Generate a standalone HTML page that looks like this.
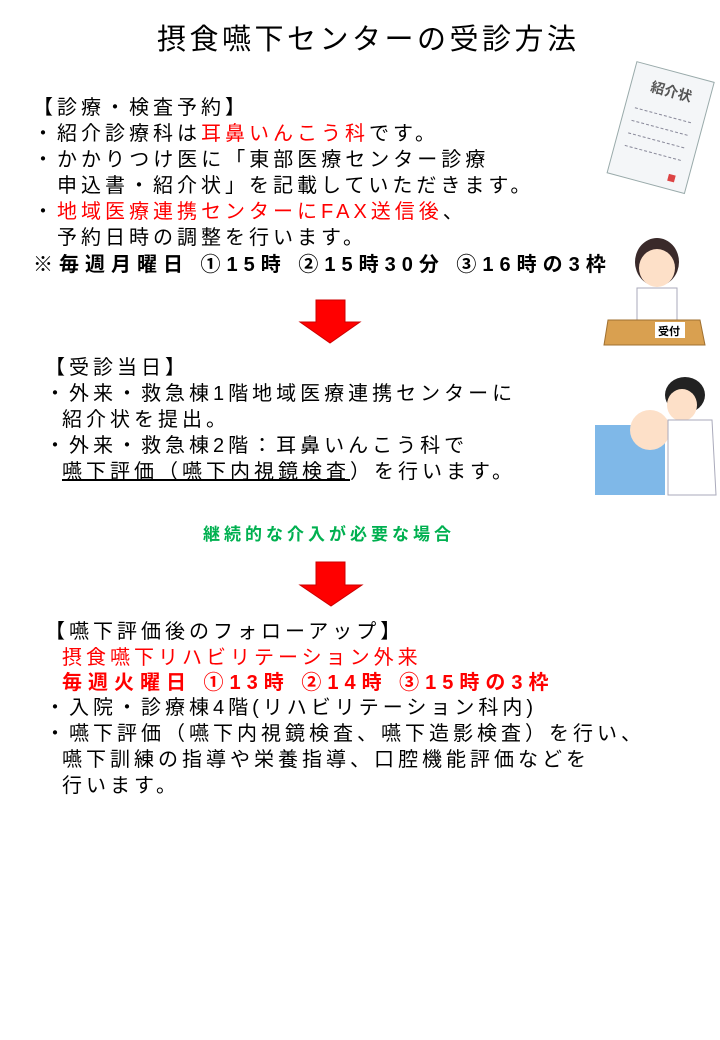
<!DOCTYPE html>
<html><head><meta charset="utf-8"><style>
body{margin:0;width:720px;height:1040px;background:#fff;position:relative;overflow:hidden;font-family:"Liberation Sans","Noto Sans CJK JP",sans-serif;color:#000}
.t{position:absolute;white-space:nowrap;font-size:20px;line-height:26px;letter-spacing:4px}
.r{color:#f00}.b{font-weight:bold}
</style></head><body>
<div class="t" style="left:157px;top:20px;font-size:29px;line-height:40px;letter-spacing:3.5px">摂食嚥下センターの受診方法</div>

<div class="t" style="left:33px;top:95px">【診療・検査予約】</div>
<div class="t" style="left:33px;top:121px">・紹介診療科は<span class="r">耳鼻いんこう科</span>です。</div>
<div class="t" style="left:33px;top:147px">・かかりつけ医に「東部医療センター診療</div>
<div class="t" style="left:57px;top:173px">申込書・紹介状」を記載していただきます。</div>
<div class="t" style="left:33px;top:199px">・<span class="r">地域医療連携センターにFAX送信後</span>、</div>
<div class="t" style="left:57px;top:225px">予約日時の調整を行います。</div>
<div class="t b" style="left:33px;top:252px;letter-spacing:6px">※毎週月曜日 ①15時 ②15時30分 ③16時の3枠</div>

<svg style="position:absolute;left:0;top:0" width="720" height="1040">
<polygon points="316,300 345,300 345,322 360,322 330,343 300,322 316,322" fill="#f00" stroke="#c00"/>
<polygon points="316,562 345,562 345,585 362,585 331,606 300,585 316,585" fill="#f00" stroke="#c00"/>
<g transform="rotate(15 660 130)">
<rect x="620" y="70" width="80" height="115" fill="#f4f6f8" stroke="#9aa" />
<text x="640" y="95" font-size="14" font-weight="bold" fill="#555" font-family="Noto Sans CJK JP">紹介状</text>
<line x1="630" y1="115" x2="690" y2="115" stroke="#889" stroke-dasharray="3 2"/>
<line x1="630" y1="128" x2="690" y2="128" stroke="#889" stroke-dasharray="3 2"/>
<line x1="630" y1="141" x2="690" y2="141" stroke="#889" stroke-dasharray="3 2"/>
<line x1="630" y1="154" x2="690" y2="154" stroke="#889" stroke-dasharray="3 2"/>
<rect x="680" y="170" width="7" height="7" fill="#d44"/>
</g>
<ellipse cx="657" cy="262" rx="22" ry="24" fill="#3a2a2a"/>
<ellipse cx="657" cy="268" rx="18" ry="19" fill="#fde0c8"/>
<rect x="637" y="288" width="40" height="35" fill="#fff" stroke="#aab"/>
<polygon points="608,320 700,320 705,345 604,345" fill="#d9a050" stroke="#a07030"/>
<rect x="655" y="322" width="30" height="16" fill="#fff"/>
<text x="658" y="335" font-size="11" font-weight="bold" font-family="Noto Sans CJK JP">受付</text>
<rect x="595" y="425" width="70" height="70" fill="#7fb8e8"/>
<ellipse cx="650" cy="430" rx="20" ry="20" fill="#fde0c8"/>
<ellipse cx="685" cy="395" rx="20" ry="18" fill="#222"/>
<ellipse cx="682" cy="405" rx="15" ry="16" fill="#fde0c8"/>
<path d="M668 420 L712 420 L716 495 L668 495 Z" fill="#fff" stroke="#aab"/>
</svg>

<div class="t" style="left:45px;top:355px">【受診当日】</div>
<div class="t" style="left:45px;top:381px">・外来・救急棟1階地域医療連携センターに</div>
<div class="t" style="left:62px;top:407px">紹介状を提出。</div>
<div class="t" style="left:45px;top:433px">・外来・救急棟2階：耳鼻いんこう科で</div>
<div class="t" style="left:62px;top:459px"><span style="text-decoration:underline">嚥下評価（嚥下内視鏡検査</span>）を行います。</div>

<div class="t b" style="left:203px;top:522px;font-size:17px;color:#00b050;letter-spacing:4px">継続的な介入が必要な場合</div>

<div class="t" style="left:45px;top:619px">【嚥下評価後のフォローアップ】</div>
<div class="t r" style="left:62px;top:645px">摂食嚥下リハビリテーション外来</div>
<div class="t r b" style="left:62px;top:670px;letter-spacing:6px">毎週火曜日 ①13時 ②14時 ③15時の3枠</div>
<div class="t" style="left:45px;top:695px">・入院・診療棟4階(リハビリテーション科内)</div>
<div class="t" style="left:45px;top:721px">・嚥下評価（嚥下内視鏡検査、嚥下造影検査）を行い、</div>
<div class="t" style="left:62px;top:747px">嚥下訓練の指導や栄養指導、口腔機能評価などを</div>
<div class="t" style="left:62px;top:773px">行います。</div>
</body></html>
